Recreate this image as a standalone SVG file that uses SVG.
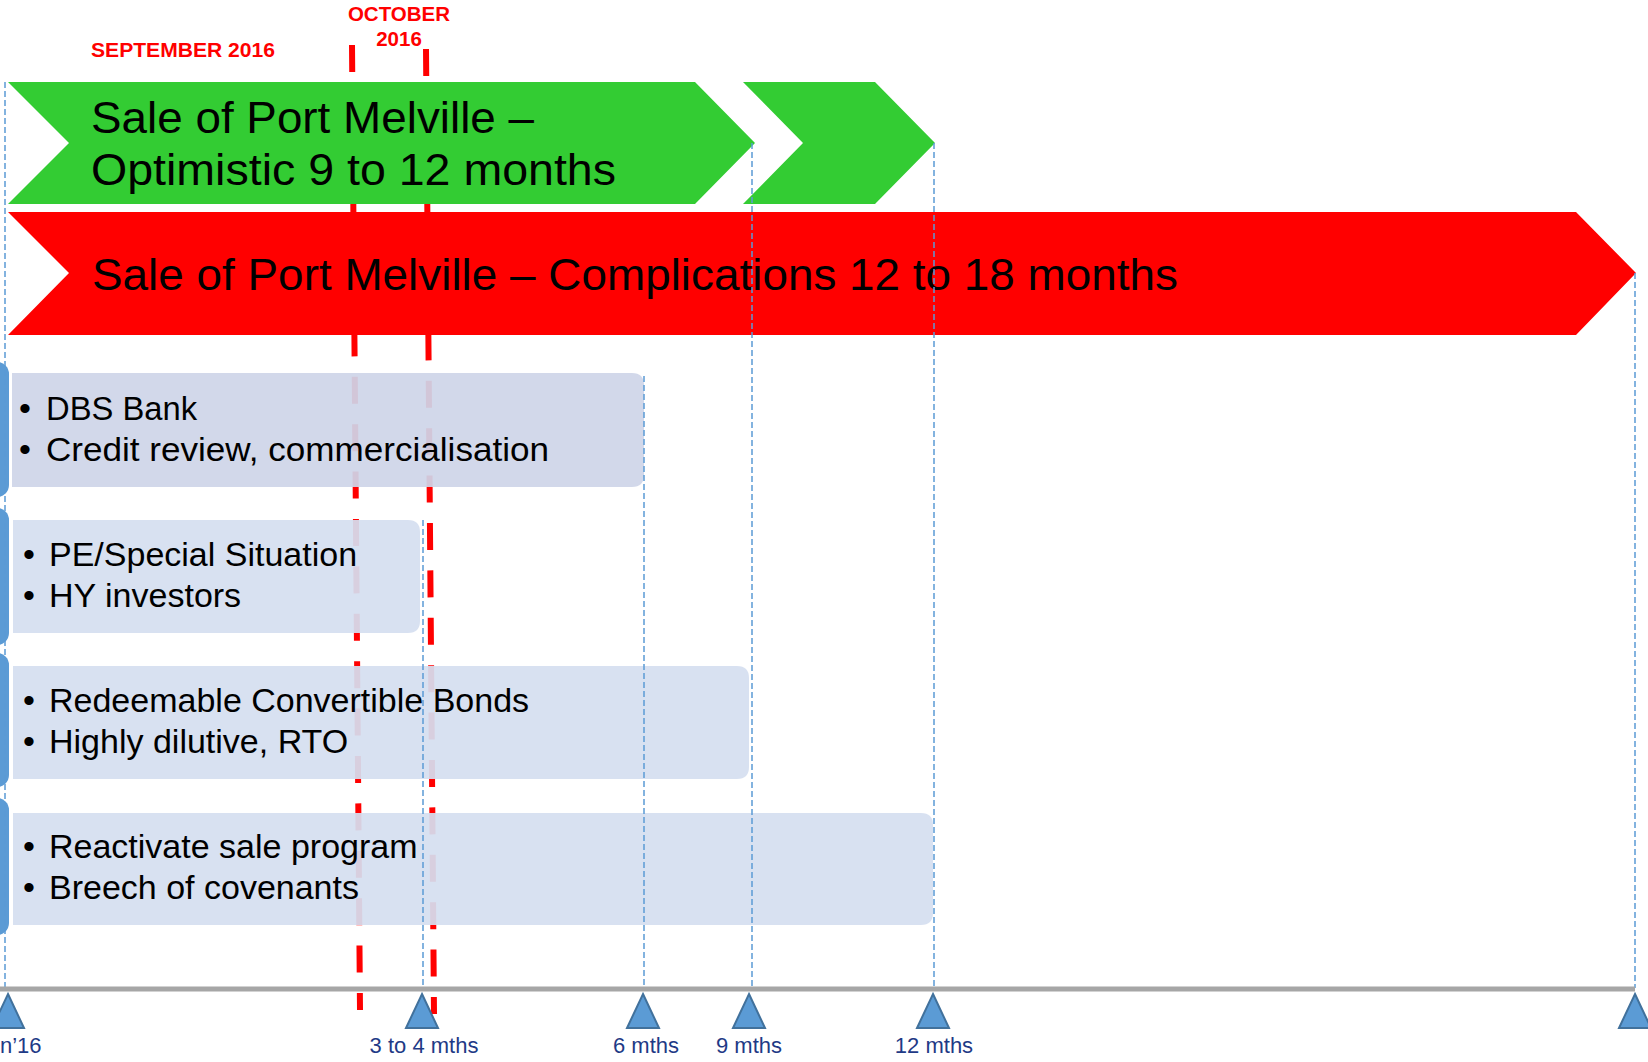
<svg xmlns="http://www.w3.org/2000/svg" width="1648" height="1062" viewBox="0 0 1648 1062">
<style>
.hdr{font-family:"Liberation Sans",Arial,sans-serif;font-weight:bold;font-size:20.5px;fill:#ff0000}
.big{font-family:"Liberation Sans",Arial,sans-serif;font-size:45px;fill:#000}
.item{font-family:"Liberation Sans",Arial,sans-serif;font-size:34px;fill:#000}
.ax{font-family:"Liberation Sans",Arial,sans-serif;font-size:22px;fill:#1f3a86;text-anchor:middle}
.redline{stroke:#ff0000;stroke-width:6;stroke-dasharray:27 20.4;fill:none}
.guide{stroke:#5b9bd5;stroke-width:1.5;stroke-dasharray:6 3;fill:none}
.tick{fill:#5b9bd5;stroke:#41719c;stroke-width:2}
.brk{fill:#5b9bd5}
.box1{fill:#cfd5e8;fill-opacity:0.93}
.box{fill:#d5dff0;fill-opacity:0.93}
</style>
<rect width="1648" height="1062" fill="#fff"/>

<g id="month-markers">
<line class="redline" x1="352" y1="45" x2="360" y2="1010"/>
<line class="redline" x1="426" y1="49" x2="434" y2="1014"/>
<text class="hdr" x="91" y="57" textLength="184" lengthAdjust="spacingAndGlyphs">SEPTEMBER 2016</text>
<text class="hdr" x="399" y="21" text-anchor="middle">OCTOBER</text>
<text class="hdr" x="399" y="46" text-anchor="middle">2016</text>
</g>

<g id="optimistic">
<polygon points="8,82 695,82 755,143 695,204 8,204 69,143" fill="#33cc33"/>
<polygon points="743,82 875,82 935,143 875,204 743,204 803,143" fill="#33cc33"/>
<text class="big" x="91" y="133" textLength="443" lengthAdjust="spacingAndGlyphs">Sale of Port Melville –</text>
<text class="big" x="91" y="185" textLength="525" lengthAdjust="spacingAndGlyphs">Optimistic 9 to 12 months</text>
</g>

<g id="complications">
<polygon points="8,212 1576,212 1636,273 1576,335 8,335 69,273" fill="#ff0000"/>
<text class="big" x="92" y="290" textLength="1086" lengthAdjust="spacingAndGlyphs">Sale of Port Melville – Complications 12 to 18 months</text>
</g>

<g id="option-dbs">
<rect class="brk" x="-30" y="362" width="39" height="135" rx="12"/>
<path class="box1" d="M12,373 H632 Q644,373 644,385 V475 Q644,487 632,487 H12 Z"/>
<text class="item" x="19" y="420">•<tspan x="46" textLength="151" lengthAdjust="spacingAndGlyphs">DBS Bank</tspan></text>
<text class="item" x="19" y="461">•<tspan x="46" textLength="503" lengthAdjust="spacingAndGlyphs">Credit review, commercialisation</tspan></text>
</g>

<g id="option-pe">
<rect class="brk" x="-30" y="508" width="39" height="137" rx="12"/>
<path class="box" d="M13,520 H408 Q420,520 420,532 V621 Q420,633 408,633 H13 Z"/>
<text class="item" x="23" y="566">•<tspan x="49">PE/Special Situation</tspan></text>
<text class="item" x="23" y="607">•<tspan x="49">HY investors</tspan></text>
</g>

<g id="option-rcb">
<rect class="brk" x="-30" y="653" width="39" height="134" rx="12"/>
<path class="box" d="M13,666 H737 Q749,666 749,678 V767 Q749,779 737,779 H13 Z"/>
<text class="item" x="23" y="712">•<tspan x="49">Redeemable Convertible Bonds</tspan></text>
<text class="item" x="23" y="753">•<tspan x="49">Highly dilutive, RTO</tspan></text>
</g>

<g id="option-sale">
<rect class="brk" x="-30" y="798" width="39" height="137" rx="12"/>
<path class="box" d="M13,813 H921 Q933,813 933,825 V913 Q933,925 921,925 H13 Z"/>
<text class="item" x="23" y="858">•<tspan x="49">Reactivate sale program</tspan></text>
<text class="item" x="23" y="899">•<tspan x="49">Breech of covenants</tspan></text>
</g>

<g id="connectors">
<line class="guide" x1="5" y1="82" x2="5" y2="988"/>
<line class="guide" x1="423" y1="520" x2="423" y2="988"/>
<line class="guide" x1="644" y1="376" x2="644" y2="988"/>
<line class="guide" x1="752" y1="143" x2="752" y2="988"/>
<line class="guide" x1="934" y1="143" x2="934" y2="988"/>
<line class="guide" x1="1635" y1="273" x2="1635" y2="988"/>
<line x1="0" y1="989" x2="1635" y2="989" stroke="#a6a6a6" stroke-width="5"/>
</g>

<g id="axis-ticks">
<polygon class="tick" points="8,994 24,1028 -8,1028"/>
<polygon class="tick" points="422,994 438,1028 406,1028"/>
<polygon class="tick" points="643,994 659,1028 627,1028"/>
<polygon class="tick" points="749,994 765,1028 733,1028"/>
<polygon class="tick" points="933,994 949,1028 917,1028"/>
<polygon class="tick" points="1635,994 1651,1028 1619,1028"/>
<text class="ax" x="0" y="1053" style="text-anchor:start">n’16</text>
<text class="ax" x="424" y="1053">3 to 4 mths</text>
<text class="ax" x="646" y="1053">6 mths</text>
<text class="ax" x="749" y="1053">9 mths</text>
<text class="ax" x="934" y="1053">12 mths</text>
</g>
</svg>
